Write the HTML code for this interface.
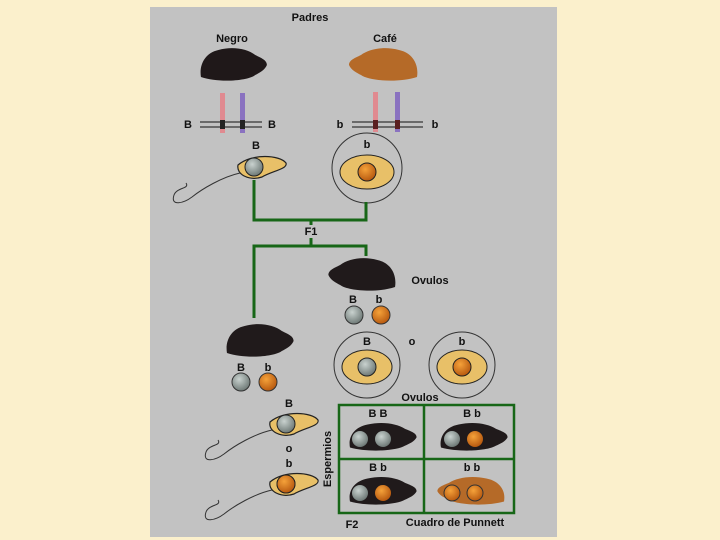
<!DOCTYPE html>
<html><head><meta charset="utf-8"><style>
html,body{margin:0;padding:0;width:720px;height:540px;overflow:hidden;background:#fbf0cc;}
svg{position:absolute;left:0;top:0}
text{font-family:"Liberation Sans",sans-serif;font-weight:bold;font-size:11px;fill:#111;}
</style></head><body>
<svg width="720" height="540" viewBox="0 0 720 540">
<defs>
<radialGradient id="gr" cx="40%" cy="35%" r="65%"><stop offset="0" stop-color="#c9d2cf"/><stop offset="1" stop-color="#6f7a77"/></radialGradient>
<radialGradient id="or" cx="40%" cy="35%" r="65%"><stop offset="0" stop-color="#f5a23a"/><stop offset="1" stop-color="#b85a10"/></radialGradient>
<path id="pig" d="M2,30 C0,18 6,6 20,3 C35,-1 50,2 58,8 C64,11 70,13 70,18 C68,23 62,26 58,28 C50,34 20,36 2,30Z"/>
<g id="sperm">
<path d="M-24,-2 C-10,-14 18,-12 24,-4 C26,2 10,4 0,10 C-12,14 -26,8 -24,-2Z" fill="#e8c068" stroke="#222" stroke-width="1.2"/>
<circle cx="-8" cy="0" r="9" fill="url(#gr)" stroke="#222"/>
<path d="M-22,6 C-40,10 -60,22 -70,30 C-78,36 -92,40 -88,28 C-85,20 -72,22 -76,16" fill="none" stroke="#333" stroke-width="1"/>
</g>
</defs>
<rect x="150" y="7" width="407" height="530" fill="#c2c2c2"/>
<text x="310" y="21" text-anchor="middle">Padres</text>
<text x="232" y="42" text-anchor="middle">Negro</text>
<text x="385" y="42" text-anchor="middle">Café</text>
<use href="#pig" transform="translate(199,47) scale(0.97,1)" fill="#1f1819"/>
<use href="#pig" transform="translate(419,47) scale(-1,1)" fill="#b56a28"/>
<!-- chromosomes -->
<g stroke="#111" stroke-width="1">
<line x1="200" y1="122" x2="262" y2="122"/><line x1="200" y1="127" x2="262" y2="127"/>
<line x1="352" y1="122" x2="423" y2="122"/><line x1="352" y1="127" x2="423" y2="127"/>
</g>
<rect x="220" y="93" width="5" height="40" fill="#e08a90"/><rect x="240" y="93" width="5" height="40" fill="#8a72c0"/>
<rect x="373" y="92" width="5" height="40" fill="#e08a90"/><rect x="395" y="92" width="5" height="40" fill="#8a72c0"/>
<rect x="220" y="120" width="5" height="9" fill="#222"/><rect x="240" y="120" width="5" height="9" fill="#222"/>
<rect x="373" y="120" width="5" height="9" fill="#5a2020"/><rect x="395" y="120" width="5" height="9" fill="#5a2020"/>
<text x="188" y="128" text-anchor="middle">B</text><text x="272" y="128" text-anchor="middle">B</text>
<text x="340" y="128" text-anchor="middle">b</text><text x="435" y="128" text-anchor="middle">b</text>
<text x="256" y="149" text-anchor="middle">B</text>
<use href="#sperm" transform="translate(262,167)"/>
<circle cx="367" cy="168" r="35" fill="#c2c2c2" stroke="#333" stroke-width="1"/>
<ellipse cx="367" cy="172" rx="27" ry="17" fill="#e8c068" stroke="#222"/>
<circle cx="367" cy="172" r="9" fill="url(#or)" stroke="#222"/>
<text x="367" y="148" text-anchor="middle">b</text>
<!-- green connectors -->
<g stroke="#176617" stroke-width="3" fill="none">
<polyline points="254,180 254,220 366,220 366,202"/>
<line x1="311" y1="220" x2="311" y2="225"/><line x1="311" y1="238" x2="311" y2="246"/>
<polyline points="254,318 254,246 366,246 366,256"/>
</g>
<text x="311" y="235" text-anchor="middle" font-weight="normal">F1</text>
<use href="#pig" transform="translate(397,257) scale(-0.98,1)" fill="#201a1b"/>
<text x="430" y="284" text-anchor="middle">Ovulos</text>
<text x="353" y="303" text-anchor="middle">B</text><text x="379" y="303" text-anchor="middle">b</text>
<circle cx="354" cy="315" r="9" fill="url(#gr)" stroke="#333"/><circle cx="381" cy="315" r="9" fill="url(#or)" stroke="#333"/>
<circle cx="367" cy="365" r="33" fill="#c2c2c2" stroke="#333"/>
<ellipse cx="367" cy="367" rx="25" ry="17" fill="#e8c068" stroke="#222"/>
<circle cx="367" cy="367" r="9" fill="url(#gr)" stroke="#222"/>
<circle cx="462" cy="365" r="33" fill="#c2c2c2" stroke="#333"/>
<ellipse cx="462" cy="367" rx="25" ry="17" fill="#e8c068" stroke="#222"/>
<circle cx="462" cy="367" r="9" fill="url(#or)" stroke="#222"/>
<text x="367" y="345" text-anchor="middle">B</text><text x="412" y="345" text-anchor="middle">o</text><text x="462" y="345" text-anchor="middle">b</text>
<use href="#pig" transform="translate(225,323) scale(0.98,1)" fill="#201a1b"/>
<text x="241" y="371" text-anchor="middle">B</text><text x="268" y="371" text-anchor="middle">b</text>
<circle cx="241" cy="382" r="9" fill="url(#gr)" stroke="#333"/><circle cx="268" cy="382" r="9" fill="url(#or)" stroke="#333"/>
<text x="289" y="407" text-anchor="middle">B</text>
<use href="#sperm" transform="translate(294,424)"/>
<text x="289" y="452" text-anchor="middle">o</text>
<text x="289" y="467" text-anchor="middle">b</text>
<g transform="translate(294,484)"><use href="#sperm"/></g>
<circle cx="286" cy="484" r="9" fill="url(#or)" stroke="#222"/>
<text x="420" y="401" text-anchor="middle" font-weight="normal">Ovulos</text>
<text transform="translate(331,459) rotate(-90)" text-anchor="middle" font-weight="normal">Espermios</text>
<rect x="339" y="405" width="175" height="108" fill="none" stroke="#176617" stroke-width="2.5"/>
<line x1="424" y1="405" x2="424" y2="513" stroke="#176617" stroke-width="2.5"/>
<line x1="339" y1="459" x2="514" y2="459" stroke="#176617" stroke-width="2.5"/>
<text x="378" y="417" text-anchor="middle">B B</text><text x="472" y="417" text-anchor="middle">B b</text>
<text x="378" y="471" text-anchor="middle">B b</text><text x="472" y="471" text-anchor="middle">b b</text>
<use href="#pig" transform="translate(348,422) scale(0.98,0.85)" fill="#201a1b"/>
<use href="#pig" transform="translate(439,422) scale(0.98,0.85)" fill="#201a1b"/>
<use href="#pig" transform="translate(348,476) scale(0.98,0.85)" fill="#201a1b"/>
<use href="#pig" transform="translate(506,476) scale(-0.98,0.85)" fill="#b56a28"/>
<circle cx="360" cy="439" r="8" fill="url(#gr)"/><circle cx="383" cy="439" r="8" fill="url(#gr)"/>
<circle cx="452" cy="439" r="8" fill="url(#gr)"/><circle cx="475" cy="439" r="8" fill="url(#or)"/>
<circle cx="360" cy="493" r="8" fill="url(#gr)"/><circle cx="383" cy="493" r="8" fill="url(#or)"/>
<circle cx="452" cy="493" r="8" fill="url(#or)" stroke="#333"/><circle cx="475" cy="493" r="8" fill="url(#or)" stroke="#333"/>
<text x="352" y="528" text-anchor="middle" font-weight="normal">F2</text>
<text x="455" y="526" text-anchor="middle" font-weight="normal">Cuadro de Punnett</text>
</svg>
</body></html>
